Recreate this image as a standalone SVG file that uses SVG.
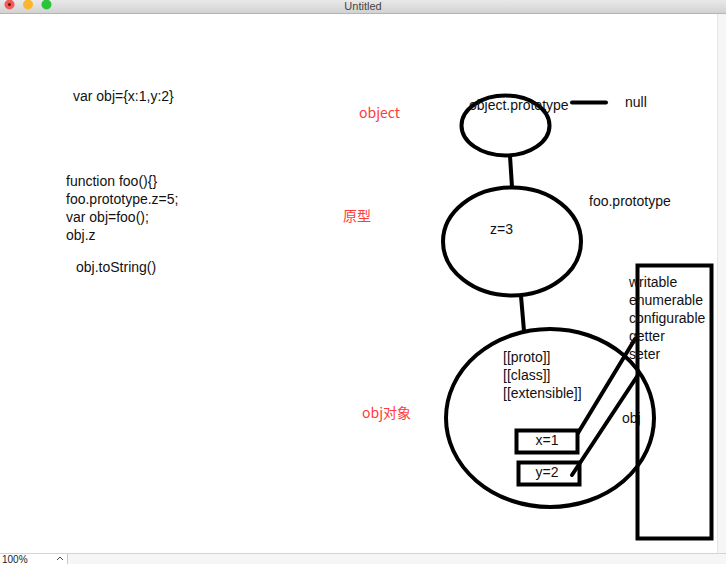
<svg xmlns="http://www.w3.org/2000/svg" width="726" height="564" viewBox="0 0 726 564">
<defs>
<linearGradient id="tb" x1="0" y1="0" x2="0" y2="1"><stop offset="0" stop-color="#e9e9e9"/><stop offset="1" stop-color="#d2d2d2"/></linearGradient>
<style>
.t{font-family:"Liberation Sans",Arial,sans-serif;font-size:14px;fill:#111}
.r{font-family:"Noto Sans CJK SC","Liberation Sans",sans-serif;font-size:14px;fill:#ff3b3b}
.s{fill:none;stroke:#000;stroke-width:4}
.c{stroke:#000;stroke-width:4;stroke-linecap:round}
</style>
</defs>
<rect width="726" height="564" fill="#fff"/>
<g id="chrome">
<rect x="0" y="0" width="726" height="13" fill="url(#tb)"/>
<line x1="0" y1="13.5" x2="726" y2="13.5" stroke="#b4b4b4"/>
<circle cx="9.5" cy="4.5" r="5" fill="#f25a55"/><circle cx="9.5" cy="4.5" r="1.5" fill="#6b0d0a"/>
<circle cx="28" cy="4.5" r="5" fill="#fcb62d"/>
<circle cx="46.5" cy="4.5" r="5" fill="#2bc33b"/>
<text x="363" y="10" text-anchor="middle" style="font-family:'Liberation Sans',sans-serif;font-size:11px;fill:#444">Untitled</text>
<rect x="718" y="14" width="8" height="539" fill="#f6f6f6"/>
<line x1="717.5" y1="14" x2="717.5" y2="553" stroke="#e6e6e6"/>
<rect x="0" y="553" width="726" height="11" fill="#f6f6f6"/>
<line x1="0" y1="553.5" x2="726" y2="553.5" stroke="#d4d4d4"/>
<rect x="0" y="554" width="67" height="10" fill="#fff"/>
<line x1="67.5" y1="554" x2="67.5" y2="564" stroke="#c8c8c8"/>
<text x="2" y="563" style="font-family:'Liberation Sans',sans-serif;font-size:10px;fill:#222">100%</text>
<path d="M57 560 L60 557 L63 560" fill="none" stroke="#444" stroke-width="1"/>
</g>
<g id="code">
<text class="t" x="73" y="101">var obj={x:1,y:2}</text>
<text class="t" x="66" y="186">function foo(){}</text>
<text class="t" x="66" y="204">foo.prototype.z=5;</text>
<text class="t" x="66" y="222">var obj=foo();</text>
<text class="t" x="66" y="240">obj.z</text>
<text class="t" x="76" y="272">obj.toString()</text>
</g>
<g id="labels">
<text class="r" x="359" y="118">object</text>
<text class="r" x="343" y="221">原型</text>
<text class="r" x="362" y="418">obj对象</text>
</g>
<g id="connectors">
<line class="c" x1="510" y1="156" x2="512" y2="187"/>
<line class="c" x1="521" y1="296" x2="524" y2="331"/>
<line class="c" x1="572" y1="102.5" x2="606" y2="102.5"/>
<line class="c" x1="578" y1="433" x2="635" y2="339" stroke-width="5"/>
<line class="c" x1="572" y1="475" x2="638" y2="375" stroke-width="5"/>
</g>
<g id="object-prototype">
<ellipse class="s" cx="505.5" cy="125.5" rx="44" ry="30"/>
<text class="t" x="469" y="110">object.prototype</text>
</g>
<g id="null"><text class="t" x="625" y="107">null</text></g>
<g id="foo-prototype">
<ellipse class="s" cx="512" cy="241.5" rx="69" ry="54"/>
<text class="t" x="490" y="234">z=3</text>
<text class="t" x="589" y="206">foo.prototype</text>
</g>
<g id="obj">
<ellipse class="s" cx="550" cy="418" rx="104" ry="89"/>
<text class="t" x="503" y="362">[[proto]]</text>
<text class="t" x="503" y="380">[[class]]</text>
<text class="t" x="503" y="398">[[extensible]]</text>
<text class="t" x="622" y="423">obj</text>
</g>
<g id="x1">
<rect class="s" x="516.5" y="430.5" width="61" height="22"/>
<text class="t" x="547" y="445" text-anchor="middle">x=1</text>
</g>
<g id="y2">
<rect class="s" x="518.5" y="462.5" width="61" height="22"/>
<text class="t" x="547" y="477" text-anchor="middle">y=2</text>
</g>
<g id="descriptor">
<rect class="s" x="637.5" y="265.5" width="74" height="273"/>
<text class="t" x="629" y="287">writable</text>
<text class="t" x="629" y="305">enumerable</text>
<text class="t" x="629" y="323">configurable</text>
<text class="t" x="629" y="341">getter</text>
<text class="t" x="629" y="359">seter</text>
</g>
</svg>
